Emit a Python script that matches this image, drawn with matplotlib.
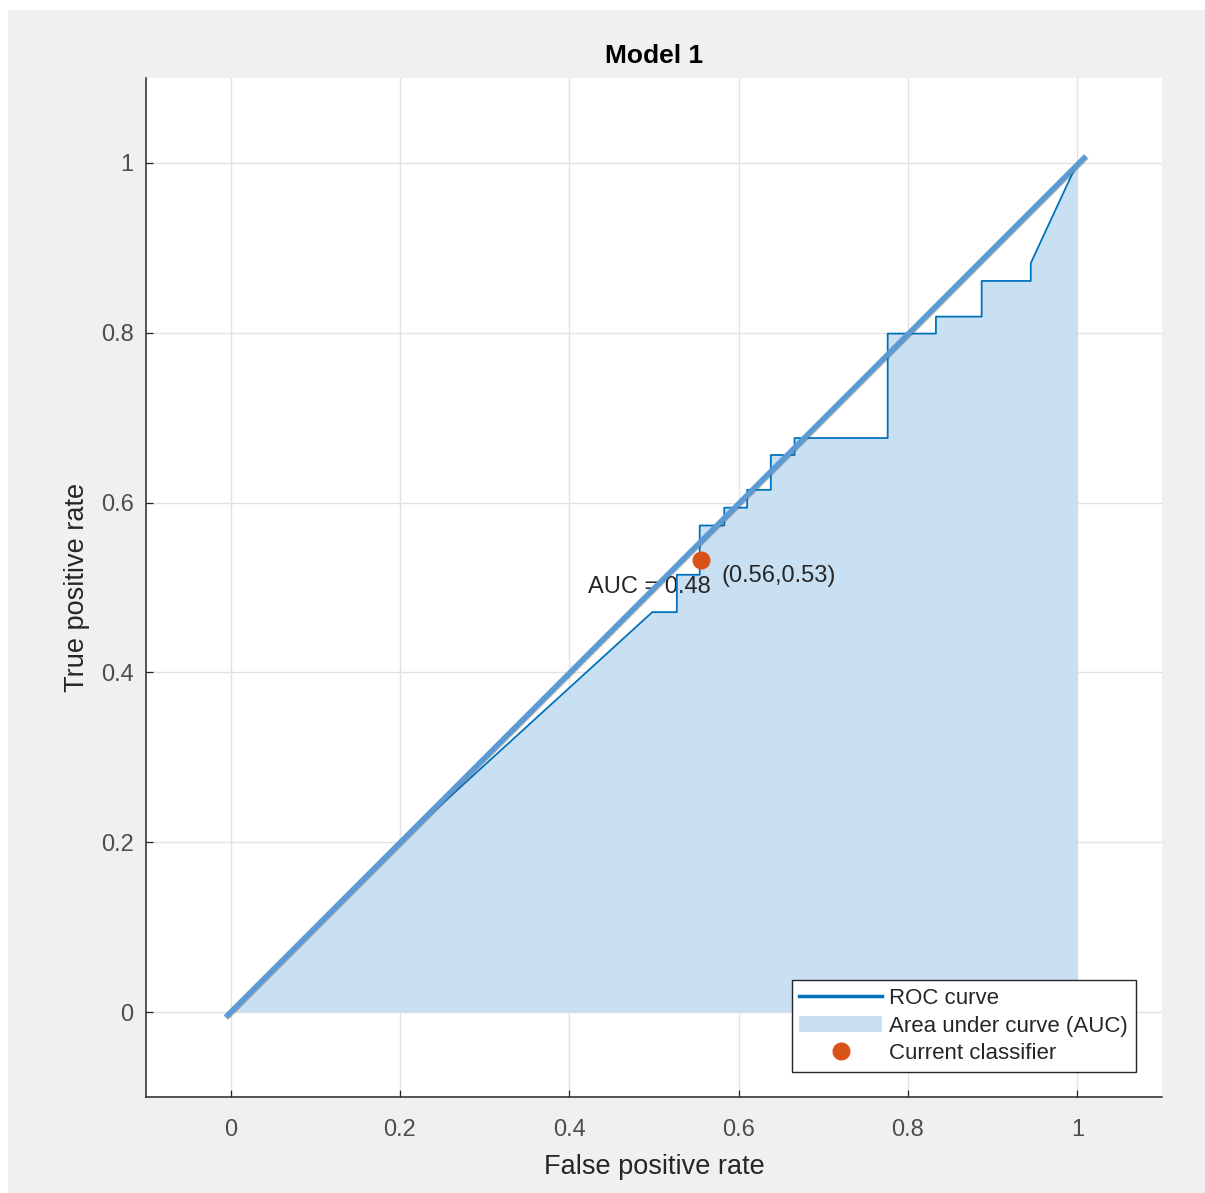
import matplotlib
matplotlib.use("Agg")
import matplotlib.pyplot as plt
import matplotlib.patches as patches
import matplotlib.patheffects as pe
from matplotlib.lines import Line2D

plt.rcParams['font.family'] = ['Liberation Sans', 'DejaVu Sans']

# ROC curve points (false positive rate, true positive rate)
fpr = [0.0, 0.2, 0.498, 0.527, 0.527, 0.554, 0.554, 0.583, 0.583, 0.610, 0.610,
       0.638, 0.638, 0.666, 0.666, 0.776, 0.776, 0.833, 0.833, 0.887, 0.887,
       0.945, 0.945, 1.0]
tpr = [0.0, 0.2, 0.471, 0.471, 0.515, 0.515, 0.573, 0.573, 0.594, 0.594, 0.615,
       0.615, 0.656, 0.656, 0.676, 0.676, 0.799, 0.799, 0.819, 0.819, 0.861,
       0.861, 0.882, 1.0]

# diagonal reference line
diag_x = [-0.006, 1.010]
diag_y = [-0.006, 1.008]

# current classifier
clf_x, clf_y = 0.556, 0.532
auc_value = 0.48

xticks = [0, 0.2, 0.4, 0.6, 0.8, 1]
yticks = [0, 0.2, 0.4, 0.6, 0.8, 1]

roc_color = '#0072BD'
fill_color = '#c9dff2'
diag_color = '#5b9bd5'
clf_color = '#D95319'
text_color = '#262626'

fig = plt.figure(figsize=(12.05, 11.93), dpi=100)
fig.patch.set_facecolor('white')
# gray frame like the app window
fig.patches.append(patches.Rectangle((8 / 1205, 0), 1 - 8 / 1205, 1 - 10 / 1193,
                                     transform=fig.transFigure, facecolor='#f0f0f0',
                                     edgecolor='none', zorder=-10))

ax = fig.add_axes([146 / 1205, 96 / 1193, 1016 / 1205, 1019 / 1193])
ax.set_facecolor('white')

ax.fill_between(fpr, tpr, 0, color=fill_color, linewidth=0, zorder=1)
ax.plot(fpr, tpr, color=roc_color, lw=1.3, zorder=3)

ax.text(0.422, 0.501, f"AUC = {auc_value:.2f}", fontsize=17, color=text_color,
        ha='left', va='center', zorder=2)
ax.text(0.580, 0.513, f"({clf_x:.2f},{clf_y:.2f})", fontsize=17, color=text_color,
        ha='left', va='center', zorder=2)

ax.plot(diag_x, diag_y, color=diag_color, lw=3.8, solid_capstyle='butt', zorder=4,
        path_effects=[pe.SimpleLineShadow(offset=(0.6, -0.6), shadow_color='#444444', alpha=0.4),
                      pe.Normal()])
ax.plot([clf_x], [clf_y], 'o', color=clf_color, markersize=13, markeredgewidth=0, zorder=5)

ax.set_xlim(-0.1, 1.1)
ax.set_ylim(-0.1, 1.1)
ax.set_xticks(xticks)
ax.set_yticks(yticks)
ax.set_xticklabels([f"{v:g}" for v in xticks])
ax.set_yticklabels([f"{v:g}" for v in yticks])
ax.grid(True, color='#e2e2e2', lw=1.0, zorder=0)
ax.set_axisbelow(True)

for s in ['top', 'right']:
    ax.spines[s].set_visible(False)
for s in ['left', 'bottom']:
    ax.spines[s].set_color('#262626')
    ax.spines[s].set_linewidth(1.1)
ax.tick_params(direction='in', length=5, width=0.9, colors='#262626',
               labelsize=17, top=False, right=False)
ax.tick_params(axis='x', pad=16)
ax.tick_params(axis='y', pad=9)
for lab in ax.get_xticklabels() + ax.get_yticklabels():
    lab.set_color('#4d4d4d')

ax.set_title("Model 1", fontsize=19, fontweight='bold', color='black', pad=10.5)
ax.set_xlabel("False positive rate", fontsize=19.5, color=text_color, labelpad=9)
ax.set_ylabel("True positive rate", fontsize=19.5, color=text_color, labelpad=8)

handles = [Line2D([], [], color=roc_color, lw=2.5),
           patches.Patch(facecolor=fill_color, edgecolor='none'),
           Line2D([], [], marker='o', color=clf_color, linestyle='none', markersize=12)]
labels = ["ROC curve", "Area under curve (AUC)", "Current classifier"]
leg = ax.legend(handles, labels, loc='lower right', bbox_to_anchor=(0.9744, 0.0245),
                fontsize=16, frameon=True, fancybox=False, framealpha=1,
                edgecolor='#262626', handlelength=3.7, handletextpad=0.35,
                labelspacing=0.3, borderpad=0.35, borderaxespad=0)
leg.get_frame().set_linewidth(1.0)
for t in leg.get_texts():
    t.set_color(text_color)

fig.savefig("out.png", dpi=100)
